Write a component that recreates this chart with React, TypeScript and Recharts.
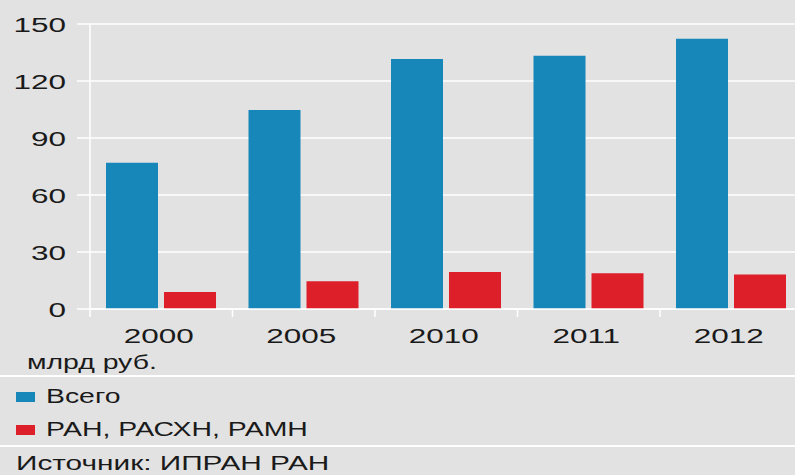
import React from 'react'
import { Bar, BarChart, CartesianGrid, XAxis, YAxis } from 'recharts'

const years = ['2000', '2005', '2010', '2011', '2012']
const totalValues = [77, 104.7, 131.6, 133.3, 142.3]
const academyValues = [8.9, 14.6, 19.5, 18.8, 18.2]
const yTicks = [0, 30, 60, 90, 120, 150]
const seriesNames = ['Всего', 'РАН, РАСХН, РАМН']
const seriesColors = ['#1786b9', '#dd1f29']
const unitLabel = 'млрд руб.'
const sourceLabel = 'Источник: ИПРАН РАН'

const data = years.map((year, i) => ({
  year,
  total: totalValues[i],
  academies: academyValues[i],
}))

const CHART_W = 810
const CHART_H = 360
const AXIS_W = 90
const X_AXIS_H = 51
const RIGHT = 7.5
const PLOT_BOTTOM = CHART_H - X_AXIS_H
const BAND = (CHART_W - AXIS_W - RIGHT) / years.length
const TEXT = '#1a1a1a'
const FONT = '"Liberation Sans", Arial, sans-serif'

function XTick({ x, payload }: any) {
  const edge = x - BAND / 2
  return (
    <g>
      <line x1={edge} x2={edge} y1={PLOT_BOTTOM} y2={PLOT_BOTTOM + 8} stroke="#fff" strokeWidth={1.5} />
      <text
        transform={`translate(${x - 2.5},${PLOT_BOTTOM + 34}) scale(1.5,1)`}
        textAnchor="middle"
        fontSize={21}
        fontFamily={FONT}
        fill={TEXT}
      >
        {payload.value}
      </text>
    </g>
  )
}

function YTick({ y, payload }: any) {
  return (
    <text
      transform={`translate(66,${y}) scale(1.5,1)`}
      dy="0.36em"
      textAnchor="end"
      fontSize={21}
      fontFamily={FONT}
      fill={TEXT}
    >
      {payload.value}
    </text>
  )
}

function Label({ x, y, size = 20, children }: any) {
  return (
    <text transform={`translate(${x},${y}) scale(1.42,1)`} fontSize={size} fontFamily={FONT} fill={TEXT}>
      {children}
    </text>
  )
}

export default function App() {
  return (
    <div
      style={{
        position: 'absolute',
        left: 0,
        top: 0,
        width: 795,
        height: 475,
        background: '#e2e2e2',
        overflow: 'hidden',
      }}
    >
      <BarChart
        width={CHART_W}
        height={CHART_H}
        data={data}
        margin={{ top: 24, right: RIGHT, bottom: 0, left: 0 }}
        barSize={52}
        barGap={6}
      >
        <CartesianGrid vertical={false} stroke="#fff" strokeWidth={1.5} />
        <XAxis
          dataKey="year"
          height={X_AXIS_H}
          interval={0}
          axisLine={{ stroke: '#fff', strokeWidth: 1.5 }}
          tickLine={false}
          tick={<XTick />}
        />
        <YAxis
          width={AXIS_W}
          domain={[0, 150]}
          ticks={yTicks}
          interval={0}
          axisLine={{ stroke: '#fff', strokeWidth: 1.5 }}
          tickLine={{ stroke: '#fff', strokeWidth: 1.5 }}
          tickSize={13}
          tick={<YTick />}
        />
        <Bar dataKey="total" name={seriesNames[0]} fill={seriesColors[0]} isAnimationActive={false} />
        <Bar dataKey="academies" name={seriesNames[1]} fill={seriesColors[1]} isAnimationActive={false} />
      </BarChart>

      <svg
        width={795}
        height={475}
        style={{ position: 'absolute', left: 0, top: 0, pointerEvents: 'none' }}
      >
        <Label x={27} y={369}>{unitLabel}</Label>
        <line x1={0} x2={795} y1={376} y2={376} stroke="#fff" strokeWidth={2} />
        {seriesNames.map((name, i) => (
          <g key={name}>
            <rect x={16} y={392 + i * 33} width={19} height={10} fill={seriesColors[i]} />
            <Label x={46} y={402.5 + i * 33}>{name}</Label>
          </g>
        ))}
        <line x1={0} x2={795} y1={446} y2={446} stroke="#fff" strokeWidth={2} />
        <Label x={16} y={470} size={21}>{sourceLabel}</Label>
      </svg>
    </div>
  )
}
